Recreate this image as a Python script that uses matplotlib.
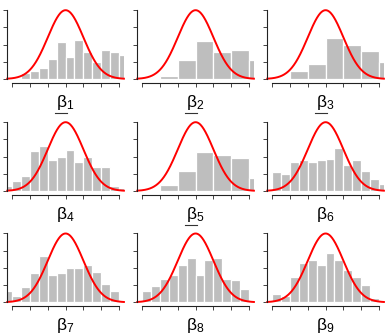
import matplotlib
matplotlib.use("Agg")
import matplotlib.pyplot as plt
import numpy as np
from matplotlib.lines import Line2D

plt.rcParams['mathtext.default'] = 'regular'
plt.rcParams['mathtext.fontset'] = 'custom'
plt.rcParams['mathtext.rm'] = 'Liberation Sans'
plt.rcParams['mathtext.it'] = 'Liberation Sans:italic'
plt.rcParams['mathtext.bf'] = 'Liberation Sans:bold'
plt.rcParams['font.family'] = ['Liberation Sans', 'DejaVu Sans']

labels = [r'$β_1$', r'$β_2$', r'$β_3$', r'$β_4$', r'$β_5$',
          r'$β_6$', r'$β_7$', r'$β_8$', r'$β_9$']
underlined = [True, True, True, False, True, False, False, False, False]

bin_start = [-2.5, -2, -2, -3.5, -3, -3, -3.5, -3, -3]
bin_width = [0.5, 1, 1, 0.5, 1, 0.5, 0.5, 0.5, 0.5]

heights = [
    [0.033, 0.048, 0.066, 0.116, 0.216, 0.125, 0.226, 0.156, 0.097, 0.168, 0.156, 0.137],
    [0.019, 0.110, 0.222, 0.156, 0.168, 0.110],
    [0.048, 0.087, 0.235, 0.200, 0.160, 0.097],
    [0.029, 0.058, 0.087, 0.230, 0.260, 0.178, 0.199, 0.239, 0.168, 0.199, 0.139, 0.139, 0.029, 0.017],
    [0.008, 0.035, 0.114, 0.224, 0.208, 0.189, 0.077],
    [0.110, 0.098, 0.168, 0.180, 0.168, 0.178, 0.187, 0.249, 0.149, 0.178, 0.116, 0.068, 0.041],
    [0.068, 0.039, 0.087, 0.168, 0.269, 0.159, 0.168, 0.197, 0.197, 0.218, 0.178, 0.106, 0.068, 0.014],
    [0.068, 0.097, 0.137, 0.159, 0.218, 0.257, 0.159, 0.247, 0.257, 0.137, 0.128, 0.077, 0.014],
    [0.048, 0.037, 0.149, 0.228, 0.247, 0.218, 0.287, 0.247, 0.187, 0.149, 0.099, 0.027],
]

x_ticks = [-3, -2, -1, 0, 1, 2, 3]
y_ticks = [0, 0.1, 0.2, 0.3, 0.4]

W, H = 390, 335
fig = plt.figure(figsize=(W / 100, H / 100), dpi=100)

xlim = (-3.28, 3.28)
ylim = (0, 0.41)
col_x = [7.3, 137.3, 267.3]
row_base = [79.0, 191.0, 302.3]
ax_w = 116.6
px_per_unit_y = 172.5
ax_h = ylim[1] * px_per_unit_y

xs = np.linspace(xlim[0], xlim[1], 400)
dens = np.exp(-xs ** 2 / 2) / np.sqrt(2 * np.pi)

axes = []
for i in range(9):
    r, c = divmod(i, 3)
    left = col_x[c] / W
    bottom = (H - row_base[r]) / H
    ax = fig.add_axes([left, bottom, ax_w / W, ax_h / H])
    h = heights[i]
    lefts = [bin_start[i] + k * bin_width[i] for k in range(len(h))]
    ax.bar(lefts, h, width=bin_width[i], align='edge', color='#BEBEBE',
           edgecolor='white', linewidth=0.9)
    ax.plot(xs, dens, color='#FF0000', lw=1.4, clip_on=False)
    ax.set_xlim(*xlim)
    ax.set_ylim(*ylim)
    ax.set_xticks(x_ticks)
    ax.set_yticks(y_ticks)
    ax.set_xticklabels([])
    ax.set_yticklabels([])
    for s in ['top', 'right']:
        ax.spines[s].set_visible(False)
    ax.spines['bottom'].set_position(('outward', 3))
    ax.spines['bottom'].set_bounds(-3, 3)
    ax.spines['left'].set_bounds(0, 0.4)
    for s in ['bottom', 'left']:
        ax.spines[s].set_linewidth(0.8)
        ax.spines[s].set_color('#222222')
    ax.tick_params(direction='out', length=3, width=0.7, color='#444444')
    ax.patch.set_visible(False)
    t = ax.annotate(labels[i], xy=(0, 0), xycoords=('data', 'axes fraction'),
                    xytext=(0, -10), textcoords='offset points',
                    ha='center', va='top', fontsize=12.5)
    axes.append((ax, t))

fig.canvas.draw()
renderer = fig.canvas.get_renderer()
for i, (ax, t) in enumerate(axes):
    if underlined[i]:
        bb = t.get_window_extent(renderer)
        y = bb.y0 - 1.5
        x0 = bb.x0 - 1
        x1 = bb.x0 + 0.6 * bb.width
        fig.add_artist(Line2D([x0 / W, x1 / W], [y / H, y / H],
                              transform=fig.transFigure, color='#333333', lw=0.8))

fig.savefig('out.png', dpi=100)
